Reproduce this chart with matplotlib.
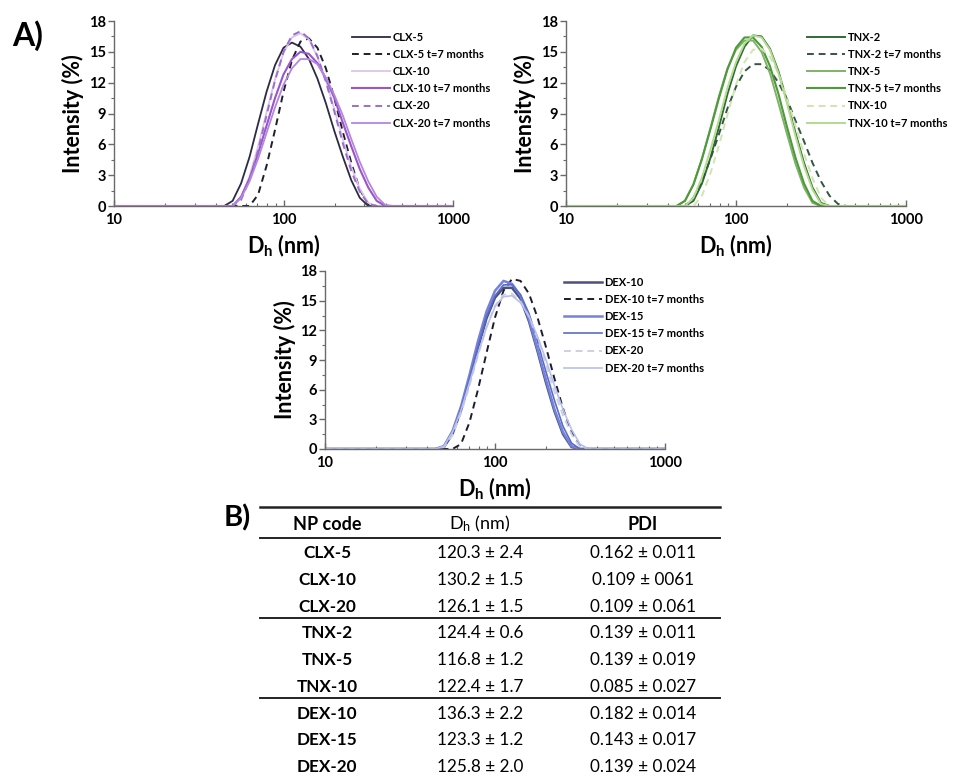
import numpy as np
import matplotlib
matplotlib.use('Agg')
import matplotlib.pyplot as plt
from matplotlib.lines import Line2D
from matplotlib.ticker import MultipleLocator, LogLocator, NullFormatter, FixedLocator, FixedFormatter

plt.rcParams['font.family'] = ['Lato', 'DejaVu Sans']
plt.rcParams['mathtext.fontset'] = 'custom'
plt.rcParams['mathtext.rm'] = 'Lato'
plt.rcParams['mathtext.bf'] = 'Lato:bold'
plt.rcParams['mathtext.it'] = 'Lato:italic'

# ---------------- data ----------------
diameter_nm = [10, 39.8, 44.7, 50.1, 56.2, 63.1, 70.8, 79.4, 89.1, 100, 112.2, 125.9, 141.3,
               158.5, 177.8, 199.5, 223.9, 251.2, 281.8, 316.2, 354.8, 398.1, 446.7, 1000]

clx_labels = ['CLX-5', 'CLX-5 t=7 months', 'CLX-10', 'CLX-10 t=7 months', 'CLX-20', 'CLX-20 t=7 months']
clx5 = [0, 0, 0, 0.5, 2.2, 4.8, 8.0, 11.1, 13.7, 15.4, 15.9, 15.5, 14.3, 12.4, 10.0, 7.3, 4.8, 2.5, 0.8, 0, 0, 0, 0, 0]
clx5_t7 = [0, 0, 0, 0, 0, 0, 1.1, 3.9, 7.4, 11.1, 14.2, 16.0, 16.3, 15.4, 13.4, 10.5, 7.2, 4.2, 1.6, 0.2, 0, 0, 0, 0]
clx10 = [0, 0, 0, 0, 0.8, 2.9, 5.8, 9.1, 12.3, 14.9, 16.4, 16.8, 16.2, 14.5, 12.2, 9.4, 6.5, 3.8, 1.7, 0.3, 0, 0, 0, 0]
clx10_t7 = [0, 0, 0, 0, 0.9, 2.7, 5.1, 7.8, 10.5, 12.8, 14.3, 15.0, 14.8, 13.9, 12.4, 10.5, 8.1, 5.8, 3.6, 1.8, 0.5, 0, 0, 0]
clx20 = [0, 0, 0, 0, 0.6, 2.6, 5.4, 8.8, 12.2, 15.0, 16.6, 17.0, 16.3, 14.6, 12.1, 9.2, 6.1, 3.4, 1.4, 0.2, 0, 0, 0, 0]
clx20_t7 = [0, 0, 0, 0, 0.8, 2.4, 4.6, 7.1, 9.6, 11.8, 13.4, 14.3, 14.3, 13.8, 12.5, 10.8, 8.8, 6.5, 4.3, 2.4, 0.9, 0.1, 0, 0]

tnx_labels = ['TNX-2', 'TNX-2 t=7 months', 'TNX-5', 'TNX-5 t=7 months', 'TNX-10', 'TNX-10 t=7 months']
tnx2 = [0, 0, 0, 0, 0.5, 2.2, 4.7, 7.7, 10.9, 13.6, 15.5, 16.6, 16.5, 15.3, 13.1, 10.2, 7.1, 4.2, 1.8, 0.3, 0, 0, 0, 0]
tnx2_t7 = [0, 0, 0, 0, 0.8, 2.4, 4.6, 7.0, 9.5, 11.6, 13.1, 13.8, 13.8, 13.2, 12.0, 10.4, 8.3, 6.3, 4.2, 2.4, 1.0, 0.2, 0, 0]
tnx5 = [0, 0, 0, 0.5, 2.1, 4.6, 7.6, 10.7, 13.4, 15.2, 16.1, 16.1, 15.0, 12.9, 10.0, 7.0, 4.1, 1.8, 0.3, 0, 0, 0, 0, 0]
tnx5_t7 = [0, 0, 0, 0.5, 2.1, 4.6, 7.5, 10.5, 13.3, 15.4, 16.4, 16.4, 15.5, 13.6, 10.9, 7.7, 4.7, 2.2, 0.5, 0, 0, 0, 0, 0]
tnx10 = [0, 0, 0, 0, 0, 1.0, 3.2, 5.9, 8.9, 11.8, 14.0, 15.2, 15.3, 14.5, 12.9, 10.5, 7.8, 5.1, 2.7, 0.8, 0, 0, 0, 0]
tnx10_t7 = [0, 0, 0, 0, 0.8, 2.8, 5.5, 8.4, 11.5, 14.0, 15.8, 16.6, 16.4, 15.2, 12.9, 10.0, 6.8, 3.9, 1.6, 0.2, 0, 0, 0, 0]

dex_labels = ['DEX-10', 'DEX-10 t=7 months', 'DEX-15', 'DEX-15 t=7 months', 'DEX-20', 'DEX-20 t=7 months']
dex10 = [0, 0, 0, 0.2, 1.5, 3.9, 6.9, 10.2, 13.2, 15.3, 16.3, 16.3, 15.2, 12.9, 9.9, 6.7, 3.8, 1.5, 0.2, 0, 0, 0, 0, 0]
dex10_t7 = [0, 0, 0, 0, 0, 0.5, 2.7, 6.0, 9.7, 13.3, 16.0, 17.2, 17.0, 15.7, 13.3, 10.3, 7.1, 4.1, 1.7, 0.3, 0, 0, 0, 0]
dex15 = [0, 0, 0, 0.3, 1.8, 4.3, 7.5, 10.9, 13.9, 16.0, 17.0, 16.7, 15.5, 13.1, 10.1, 7.0, 4.0, 1.7, 0.3, 0, 0, 0, 0, 0]
dex15_t7 = [0, 0, 0, 0.3, 1.7, 4.1, 7.1, 10.3, 13.4, 15.5, 16.6, 16.6, 15.6, 13.7, 10.9, 7.8, 4.9, 2.3, 0.6, 0, 0, 0, 0, 0]
dex20 = [0, 0, 0, 0.2, 1.4, 3.6, 6.4, 9.5, 12.3, 14.5, 15.6, 15.7, 14.9, 13.4, 11.2, 8.5, 5.8, 3.4, 1.5, 0.2, 0, 0, 0, 0]
dex20_t7 = [0, 0, 0, 0.3, 1.7, 3.9, 6.7, 9.6, 12.3, 14.4, 15.4, 15.5, 14.8, 13.4, 11.4, 9.0, 6.4, 4.0, 2.0, 0.5, 0, 0, 0, 0]

y_ticks = [0, 3, 6, 9, 12, 15, 18]
x_ticks = [10, 100, 1000]
x_tick_labels = ['10', '100', '1000']

table_header = ['NP code', r'D$_\mathregular{h}$ (nm)', 'PDI']
np_codes = ['CLX-5', 'CLX-10', 'CLX-20', 'TNX-2', 'TNX-5', 'TNX-10', 'DEX-10', 'DEX-15', 'DEX-20']
dh_values = ['120.3 ± 2.4', '130.2 ± 1.5', '126.1 ± 1.5', '124.4 ± 0.6', '116.8 ± 1.2',
             '122.4 ± 1.7', '136.3 ± 2.2', '123.3 ± 1.2', '125.8 ± 2.0']
pdi_values = ['0.162 ± 0.011', '0.109 ± 0061', '0.109 ± 0.061', '0.139 ± 0.011', '0.139 ± 0.019',
              '0.085 ± 0.027', '0.182 ± 0.014', '0.143 ± 0.017', '0.139 ± 0.024']

# ---------------- styles ----------------
W, H = 960, 778
fig = plt.figure(figsize=(W / 100, H / 100), dpi=100)

def px_rect(left, top, right, bottom):
    return [left / W, 1 - bottom / H, (right - left) / W, (bottom - top) / H]

panels = [
    dict(rect=px_rect(114, 21, 453, 206), labels=clx_labels,
         series=[clx5, clx5_t7, clx10, clx10_t7, clx20, clx20_t7],
         colors=['#2d2a45', '#1e1e2e', '#dcc4ec', '#9a55c9', '#9a6fcf', '#b486e0'],
         styles=['-', '--', '-', '-', '--', '-'], widths=[1.3, 1.4, 1.3, 1.5, 1.4, 1.3],
         leg=(352, 32)),
    dict(rect=px_rect(566, 21, 906, 206), labels=tnx_labels,
         series=[tnx2, tnx2_t7, tnx5, tnx5_t7, tnx10, tnx10_t7],
         colors=['#2f6b34', '#34573f', '#80b26a', '#4c9a3a', '#cfe6b0', '#b2dc8e'],
         styles=['-', '--', '-', '-', '--', '-'], widths=[1.4, 1.4, 1.4, 1.5, 1.4, 1.4],
         leg=(807, 32)),
    dict(rect=px_rect(325, 271, 665, 449), labels=dex_labels,
         series=[dex10, dex10_t7, dex15, dex15_t7, dex20, dex20_t7],
         colors=['#4a5180', '#1c1c30', '#7482dc', '#5b6cc4', '#cdd0e2', '#b9c0ea'],
         styles=['-', '--', '-', '-', '--', '-'], widths=[1.8, 1.4, 1.8, 1.2, 1.4, 1.2],
         leg=(564, 277)),
]

axis_color = '#6a6a6a'
for p in panels:
    ax = fig.add_axes(p['rect'])
    handles = []
    for y, lab, c, ls, lw in zip(p['series'], p['labels'], p['colors'], p['styles'], p['widths']):
        kw = dict(dashes=(3.5, 2.5)) if ls == '--' else {}
        h, = ax.plot(diameter_nm, y, color=c, lw=lw, linestyle=ls, label=lab, **kw)
        handles.append(h)
    ax.set_xscale('log')
    ax.set_xlim(10, 1000)
    ax.set_ylim(0, 18)
    ax.yaxis.set_major_locator(FixedLocator(y_ticks))
    ax.yaxis.set_minor_locator(MultipleLocator(1.5))
    ax.xaxis.set_major_locator(FixedLocator(x_ticks))
    ax.xaxis.set_major_formatter(FixedFormatter(x_tick_labels))
    ax.xaxis.set_minor_locator(LogLocator(base=10, subs=np.arange(2, 10)))
    ax.xaxis.set_minor_formatter(NullFormatter())
    for s in ['top', 'right']:
        ax.spines[s].set_visible(False)
    for s in ['left', 'bottom']:
        ax.spines[s].set_color(axis_color)
        ax.spines[s].set_linewidth(1.0)
    ax.tick_params(axis='y', which='major', direction='out', length=4, width=1, color=axis_color,
                   labelsize=10.5, pad=2)
    ax.tick_params(axis='y', which='minor', direction='out', length=2, width=0.8, color=axis_color)
    ax.tick_params(axis='x', which='major', direction='in', length=4, width=1, color=axis_color,
                   labelsize=10.5, pad=5)
    ax.tick_params(axis='x', which='minor', direction='in', length=2.5, width=0.8, color=axis_color)
    for t in ax.get_xticklabels() + ax.get_yticklabels():
        t.set_fontweight('bold')
    ax.set_ylabel('Intensity (%)', fontsize=15.5, fontweight='bold', labelpad=3)
    ax.set_xlabel(r'D$_\mathbf{h}$ (nm)', fontsize=15.5, fontweight='bold', labelpad=4)
    lx, ly = p['leg']
    ax.legend(handles=handles, loc='upper left', bbox_to_anchor=(lx / W, 1 - ly / H),
              bbox_transform=fig.transFigure, frameon=False, borderpad=0, borderaxespad=0,
              handlelength=3.4, handletextpad=0.25, labelspacing=0.55,
              prop=dict(size=8, weight='bold'))

fig.text(12 / W, 1 - 36 / H, 'A)', fontsize=23, fontweight='bold', va='center', ha='left')
fig.text(224 / W, 1 - 518 / H, 'B)', fontsize=21, fontweight='bold', va='center', ha='left')

# ---------------- table ----------------
tab_left, tab_right = 260, 720
col_x = [327, 480, 643]
header_y = 524
row_step = 26.7

def hline(ypx, lw):
    fig.add_artist(Line2D([tab_left / W, tab_right / W], [1 - ypx / H, 1 - ypx / H],
                          color='#222222', lw=lw, transform=fig.transFigure))

hline(507, 1.8)
hline(537.5, 1.4)
hline(617.5, 1.4)
hline(698, 1.4)

for j, (txt, wt) in enumerate(zip(table_header, ['bold', 'normal', 'bold'])):
    fig.text(col_x[j] / W, 1 - header_y / H, txt, fontsize=13, fontweight=wt, ha='center', va='center')

for i, (code, dh, pdi) in enumerate(zip(np_codes, dh_values, pdi_values)):
    yy = 1 - (header_y + row_step * (i + 1.1)) / H
    fig.text(col_x[0] / W, yy, code, fontsize=12.3, fontweight='bold', ha='center', va='center')
    fig.text(col_x[1] / W, yy, dh, fontsize=12.3, ha='center', va='center')
    fig.text(col_x[2] / W, yy, pdi, fontsize=12.3, ha='center', va='center')

fig.savefig('out.png', dpi=100)
